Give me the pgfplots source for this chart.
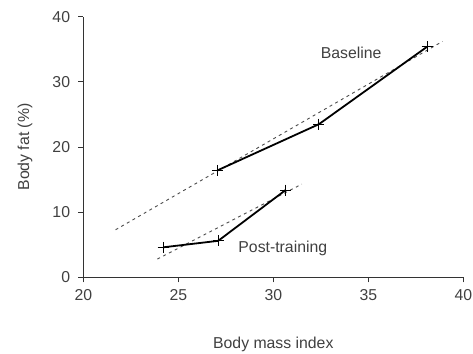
\documentclass[border=0pt]{standalone}
\usepackage{pgfplots}
\pgfplotsset{compat=1.18}
\usepackage{fontspec}
\setmainfont{Liberation Sans}
\definecolor{txt}{gray}{0.25}
\begin{document}
\begin{tikzpicture}
\begin{axis}[
  scale only axis, width=380pt, height=260.6pt,
  xmin=20, xmax=40, ymin=0, ymax=40,
  axis x line=bottom, axis y line=left,
  axis line style={-, black!80, line width=0.9pt},
  xtick={20,25,30,35,40}, ytick={0,10,20,30,40},
  tick align=outside, major tick length=5pt,
  tick style={black!80, line width=0.9pt},
  /pgf/number format/assume math mode=true,
  tick label style={font=\fontsize{15.8}{18}\selectfont, text=txt},
  xticklabel style={yshift=-4pt},
  yticklabel style={xshift=-4.7pt},
  xlabel={Body mass index},
  ylabel={Body fat (\%)},
  label style={font=\fontsize{15.8}{18}\selectfont, text=txt, inner sep=0pt},
  xlabel style={at={(axis description cs:0.5,-0.2724)}, anchor=base},
  ylabel style={at={(axis description cs:-0.1534,0.5)}, anchor=center, rotate=0},
  clip=false,
]
% Baseline fit (dashed)
\addplot[black!70, line width=0.9pt, dash pattern=on 3pt off 3.5pt] coordinates {(21.7,7.3) (38.9,36.2)};
% Post-training fit (dashed)
\addplot[black!70, line width=0.9pt, dash pattern=on 3pt off 3.5pt] coordinates {(23.9,2.8) (31.5,14.3)};
% Baseline
\addplot[black, line width=1.8pt, mark=+, mark size=5.5pt, mark options={line width=0.9pt}] coordinates {(27.05,16.4) (32.4,23.5) (38.1,35.4)};
% Post-training
\addplot[black, line width=1.8pt, mark=+, mark size=5.5pt, mark options={line width=0.9pt}] coordinates {(24.2,4.6) (27.1,5.6) (30.65,13.4)};
\node[font=\fontsize{15.8}{18}\selectfont, text=txt] at (axis cs:34.1,34.4) {Baseline};
\node[font=\fontsize{15.8}{18}\selectfont, text=txt] at (axis cs:30.5,4.45) {Post-training};
\end{axis}
\pgfresetboundingbox
\path ([xshift=-83.3pt,yshift=-75.7pt]current axis.south west) rectangle ([xshift=9.7pt,yshift=16.7pt]current axis.north east);
\end{tikzpicture}
\end{document}
